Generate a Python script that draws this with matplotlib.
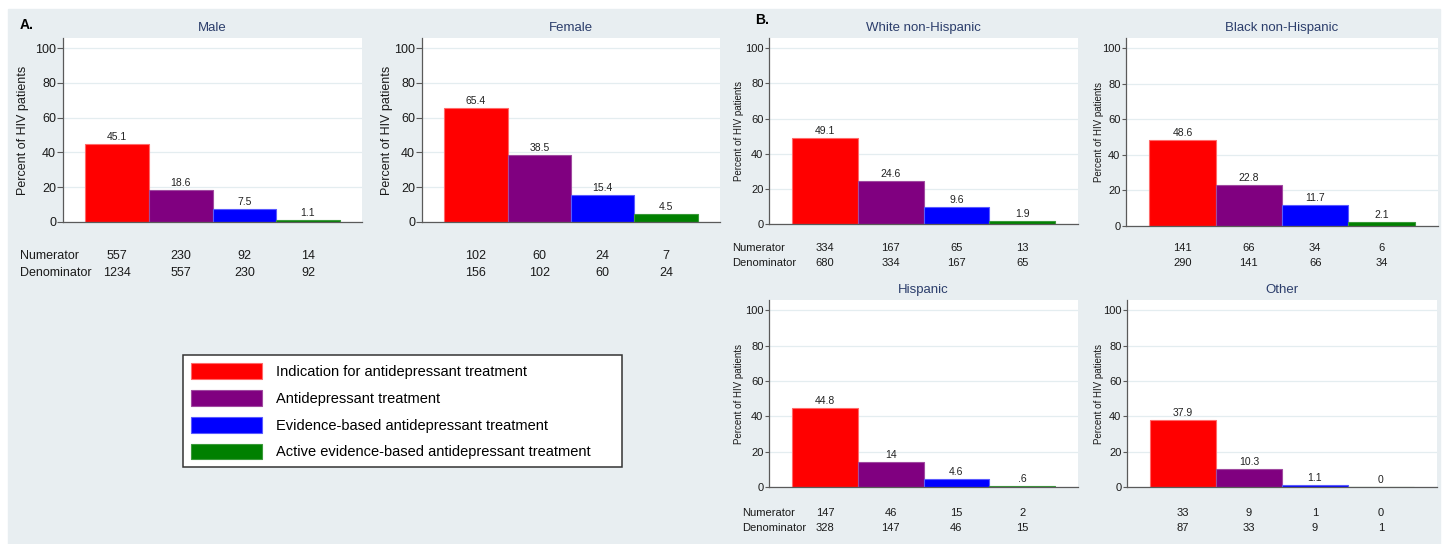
import matplotlib.pyplot as plt
from matplotlib.patches import Rectangle

plt.rcParams['font.family'] = ['Liberation Sans', 'DejaVu Sans']

# Figure size in pixels
W, H = 1448, 544

# Legend / bar categories
categories = ['Indication for antidepressant treatment',
              'Antidepressant treatment',
              'Evidence-based antidepressant treatment',
              'Active evidence-based antidepressant treatment']
bar_colors = ['#ff0000', '#800080', '#0000ff', '#008000']
edge_colors = ['#ff6a6a', '#a04aa0', '#5a5aff', '#3a9a3a']

# Data
male_pct = [45.1, 18.6, 7.5, 1.1]
male_num = [557, 230, 92, 14]
male_den = [1234, 557, 230, 92]

female_pct = [65.4, 38.5, 15.4, 4.5]
female_num = [102, 60, 24, 7]
female_den = [156, 102, 60, 24]

white_pct = [49.1, 24.6, 9.6, 1.9]
white_num = [334, 167, 65, 13]
white_den = [680, 334, 167, 65]

black_pct = [48.6, 22.8, 11.7, 2.1]
black_num = [141, 66, 34, 6]
black_den = [290, 141, 66, 34]

hisp_pct = [44.8, 14, 4.6, 0.6]
hisp_num = [147, 46, 15, 2]
hisp_den = [328, 147, 46, 15]

other_pct = [37.9, 10.3, 1.1, 0]
other_num = [33, 9, 1, 0]
other_den = [87, 33, 9, 1]

ticks = [0, 20, 40, 60, 80, 100]

BG = '#e8eef1'
TITLE_COLOR = '#2b3d6b'
AXIS_COLOR = '#5a5a5a'
GRID_COLOR = '#e4edf0'


def stata_fmt(v):
    # Stata-style label: 14 -> "14", 0.6 -> ".6"
    s = '{:g}'.format(v)
    if s.startswith('0.'):
        s = s[1:]
    return s


fig = plt.figure(figsize=(W / 100, H / 100), dpi=100)
fig.patches.append(Rectangle((8 / W, 0), (1440 - 8) / W, 1 - 9 / H,
                             transform=fig.transFigure, color=BG, zorder=-10))


def draw_panel(title, pct, num, den, box, ylab_x, rows_y, big, row_label_x=None):
    x0, y0, x1, y1 = box
    ax = fig.add_axes([x0 / W, 1 - y1 / H, (x1 - x0) / W, (y1 - y0) / H])
    ax.set_facecolor('white')
    pos = [1, 2, 3, 4]
    bars = ax.bar(pos, pct, width=1.0, color=bar_colors, edgecolor=edge_colors,
                  linewidth=0.8, zorder=3)
    ax.set_xlim(0.15, 4.85)
    ax.set_ylim(0, 105.8)
    ax.set_yticks(ticks)
    ax.set_xticks([])
    for t in ticks:
        ax.axhline(t, color=GRID_COLOR, lw=0.9, zorder=1)
    for s in ['top', 'right']:
        ax.spines[s].set_visible(False)
    for s in ['left', 'bottom']:
        ax.spines[s].set_color(AXIS_COLOR)
        ax.spines[s].set_linewidth(0.9)
        ax.spines[s].set_zorder(4)

    tick_fs = 9 if big else 8
    ax.tick_params(axis='y', length=4 if big else 3, width=0.8, color=AXIS_COLOR,
                   labelsize=tick_fs, pad=1, labelcolor='#1a1a1a')

    ylab_fs = 9 if big else 7
    ax.text((ylab_x - x0) / (x1 - x0), 0.5, 'Percent of HIV patients', rotation=90,
            ha='center', va='center', fontsize=ylab_fs, color='#1a1a1a',
            transform=ax.transAxes)

    ax.annotate(title, xy=(0.5, 1), xycoords='axes fraction', xytext=(0, 10),
                textcoords='offset pixels', ha='center', va='center',
                fontsize=9.5, color=TITLE_COLOR)

    for p, v in zip(pos, pct):
        ax.annotate(stata_fmt(v), xy=(p, v), xytext=(0, 2), textcoords='offset pixels',
                    ha='center', va='bottom', fontsize=7.5, color='#222222')

    row_fs = 9 if big else 8
    for vals, ry in zip([num, den], rows_y):
        for p, n in zip(pos, vals):
            ax.annotate(str(n), xy=(p, 0), xytext=(0, -(ry - y1)),
                        textcoords='offset pixels', ha='center', va='center',
                        fontsize=row_fs, color='#1a1a1a', annotation_clip=False)
    if row_label_x is not None:
        for lab, ry in zip(['Numerator', 'Denominator'], rows_y):
            fig.text(row_label_x / W, 1 - ry / H, lab, ha='left', va='center',
                     fontsize=row_fs, color='#1a1a1a')
    return bars


bars = draw_panel('Male', male_pct, male_num, male_den, (63, 38, 362, 222),
                  23.5, (256, 273), True, row_label_x=20)
draw_panel('Female', female_pct, female_num, female_den, (422, 38, 720, 222),
           387, (256, 273), True)
draw_panel('White non-Hispanic', white_pct, white_num, white_den, (769, 38, 1078, 224),
           739.5, (248, 263), False, row_label_x=732)
draw_panel('Black non-Hispanic', black_pct, black_num, black_den, (1126, 38, 1438, 226),
           1099.5, (248, 263), False)
draw_panel('Hispanic', hisp_pct, hisp_num, hisp_den, (769, 300, 1078, 487),
           739.5, (513, 528), False, row_label_x=742)
draw_panel('Other', other_pct, other_num, other_den, (1127, 300, 1437, 487),
           1099, (513, 528), False)

fig.text(20 / W, 1 - 25 / H, 'A.', fontsize=10, fontweight='bold', ha='left', va='center')
fig.text(755 / W, 1 - 20 / H, 'B.', fontsize=10, fontweight='bold', ha='left', va='center')

# Legend
leg = fig.legend(bars, categories, loc='upper left',
                 bbox_to_anchor=(183 / W, 1 - 471 / H, 439 / W, 116 / H),
                 bbox_transform=fig.transFigure, mode='expand',
                 fontsize=10.5, handlelength=4.9, handleheight=1.3,
                 labelspacing=0.75, handletextpad=0.9, borderpad=0.55,
                 borderaxespad=0, fancybox=False, framealpha=1)
leg.get_frame().set_edgecolor('#333333')
leg.get_frame().set_linewidth(1.1)

fig.savefig('out.png', dpi=100)
